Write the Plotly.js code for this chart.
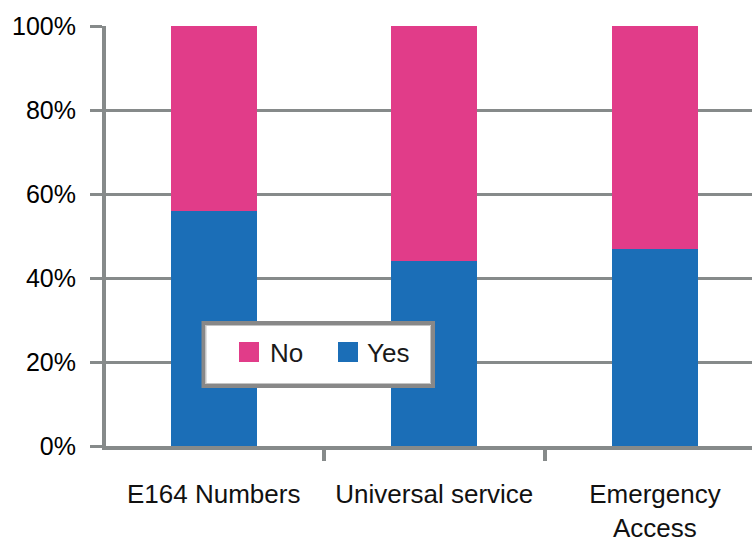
<!DOCTYPE html>
<html>
<head>
<meta charset="utf-8">
<script src="https://cdn.plot.ly/plotly-3.0.1.min.js"></script>
<style>
  html, body { margin: 0; padding: 0; background: #ffffff; }
  #chart { width: 752px; height: 543px; }
</style>
</head>
<body>
<div id="chart"></div>
<script>
// Share of answers per topic (percent of respondents)
const categories = ['E164 Numbers', 'Universal service', 'Emergency<br>Access'];
const seriesNames = ['Yes', 'No'];
const yesValues = [56, 44, 47];
const noValues = [44, 56, 53];
const seriesColors = ['#1b6eb7', '#e13c89'];
const yTickValues = [0, 20, 40, 60, 80, 100];
const yTickLabels = ['0%', '20%', '40%', '60%', '80%', '100%'];

const axisGray = '#868a8a';
const fontFamily = '"Liberation Sans", Arial, sans-serif';

const traces = [
  {
    type: 'bar',
    name: seriesNames[0],
    x: categories,
    y: yesValues,
    marker: { color: seriesColors[0] },
    hoverinfo: 'skip'
  },
  {
    type: 'bar',
    name: seriesNames[1],
    x: categories,
    y: noValues,
    marker: { color: seriesColors[1] },
    hoverinfo: 'skip'
  }
];

// Plot area in pixels, used to place the boxed legend
const W = 752, H = 543;
const M = { l: 106, r: 0, t: 26, b: 97 };
const pw = W - M.l - M.r, ph = H - M.t - M.b;
const px = v => (v - M.l) / pw;
const py = v => (H - M.b - v) / ph;

// Boxed legend: No first, then Yes
const legendItems = [
  { name: seriesNames[1], color: seriesColors[1], sx: 239, tx: 268 },
  { name: seriesNames[0], color: seriesColors[0], sx: 338, tx: 365 }
];
const shapes = [
  {
    type: 'rect', xref: 'paper', yref: 'paper',
    x0: px(203.5), x1: px(433), y0: py(323), y1: py(386),
    fillcolor: '#ffffff', line: { color: '#888888', width: 4 }, layer: 'above'
  },
  {
    type: 'rect', xref: 'paper', yref: 'paper',
    x0: px(206), x1: px(430.5), y0: py(325.5), y1: py(383.5),
    fillcolor: 'rgba(0,0,0,0)', line: { color: '#c4c4c4', width: 1 }, layer: 'above'
  }
];
const annotations = [];
legendItems.forEach(it => {
  shapes.push({
    type: 'rect', xref: 'paper', yref: 'paper',
    x0: px(it.sx), x1: px(it.sx + 20), y0: py(342), y1: py(362),
    fillcolor: it.color, line: { width: 0 }, layer: 'above'
  });
  annotations.push({
    xref: 'paper', yref: 'paper',
    x: px(it.tx), y: py(353),
    xanchor: 'left', yanchor: 'middle',
    text: it.name, showarrow: false,
    font: { family: fontFamily, size: 26, color: '#1a1a1a' }
  });
});

const layout = {
  width: W,
  height: H,
  margin: M,
  paper_bgcolor: '#ffffff',
  plot_bgcolor: '#ffffff',
  barmode: 'stack',
  bargap: 0.61,
  showlegend: false,
  font: { family: fontFamily },
  xaxis: {
    type: 'category',
    range: [-0.488, 2.44],
    tickson: 'boundaries',
    ticks: 'outside',
    ticklen: 11,
    tickwidth: 4,
    tickcolor: axisGray,
    ticklabelstandoff: 22,
    showline: true,
    linecolor: axisGray,
    linewidth: 4,
    showgrid: false,
    tickfont: { family: fontFamily, size: 26, color: '#111111' },
    fixedrange: true
  },
  yaxis: {
    range: [0, 100],
    tickmode: 'array',
    tickvals: yTickValues,
    ticktext: yTickLabels,
    ticks: 'outside',
    ticklen: 12,
    tickwidth: 3,
    tickcolor: axisGray,
    ticklabelstandoff: 9,
    showline: true,
    linecolor: axisGray,
    linewidth: 4,
    showgrid: true,
    gridcolor: axisGray,
    gridwidth: 3,
    zeroline: false,
    tickfont: { family: fontFamily, size: 25, color: '#000000' },
    fixedrange: true
  },
  shapes: shapes,
  annotations: annotations
};

Plotly.newPlot('chart', traces, layout, { displayModeBar: false, staticPlot: true });
</script>
</body>
</html>
